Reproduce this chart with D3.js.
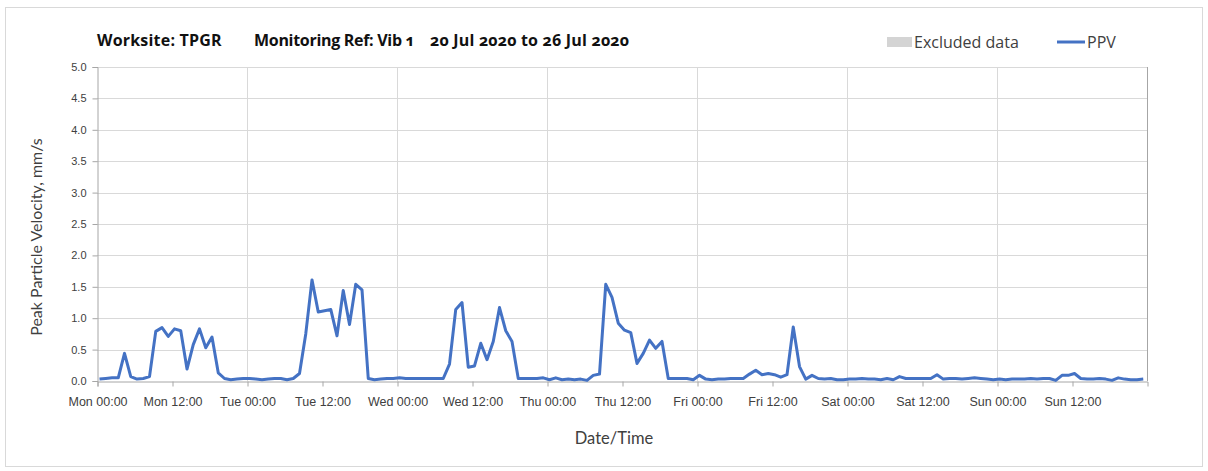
<!DOCTYPE html>
<html>
<head>
<meta charset="utf-8">
<script src="https://cdn.jsdelivr.net/npm/d3@7"></script>
<style>
  body { margin: 0; background: #fff; }
  svg { font-family: Lato, "Open Sans", sans-serif; font-variant-numeric: oldstyle-nums; }
</style>
</head>
<body>
<div id="chart"></div>
<script>
// hourly PPV readings, Mon 20 Jul 2020 00:00 -> Sun 26 Jul 2020 23:00 (mm/s)
const ppvMon = [0.03, 0.04, 0.05, 0.05, 0.44, 0.07, 0.03, 0.04, 0.07, 0.79, 0.85, 0.71,
  0.83, 0.80, 0.19, 0.58, 0.83, 0.53, 0.70, 0.13, 0.04, 0.02, 0.03, 0.04];
const ppvTue = [0.04, 0.03, 0.02, 0.03, 0.04, 0.04, 0.02, 0.04, 0.12, 0.75, 1.61, 1.10,
  1.12, 1.14, 0.72, 1.44, 0.90, 1.54, 1.45, 0.04, 0.02, 0.03, 0.04, 0.04];
const ppvWed = [0.05, 0.04, 0.04, 0.04, 0.04, 0.04, 0.04, 0.04, 0.27, 1.14, 1.25, 0.22,
  0.24, 0.60, 0.34, 0.63, 1.17, 0.80, 0.63, 0.04, 0.04, 0.04, 0.04, 0.05];
const ppvThu = [0.02, 0.05, 0.02, 0.03, 0.02, 0.03, 0.01, 0.09, 0.11, 1.54, 1.33, 0.92,
  0.81, 0.77, 0.28, 0.44, 0.65, 0.52, 0.63, 0.04, 0.04, 0.04, 0.04, 0.02];
const ppvFri = [0.09, 0.03, 0.02, 0.03, 0.03, 0.04, 0.04, 0.04, 0.11, 0.17, 0.10, 0.12,
  0.10, 0.06, 0.10, 0.86, 0.23, 0.03, 0.09, 0.04, 0.03, 0.04, 0.02, 0.02];
const ppvSat = [0.03, 0.03, 0.04, 0.03, 0.03, 0.02, 0.04, 0.02, 0.07, 0.04, 0.04, 0.04,
  0.04, 0.04, 0.10, 0.03, 0.04, 0.04, 0.03, 0.04, 0.05, 0.04, 0.03, 0.02];
const ppvSun = [0.03, 0.02, 0.03, 0.03, 0.03, 0.04, 0.03, 0.04, 0.04, 0.01, 0.09, 0.09,
  0.12, 0.04, 0.03, 0.03, 0.04, 0.03, 0.01, 0.05, 0.03, 0.02, 0.02, 0.03];

const dayNames = ["Mon", "Tue", "Wed", "Thu", "Fri", "Sat", "Sun"];
const yTicks = [0, 0.5, 1, 1.5, 2, 2.5, 3, 3.5, 4, 4.5, 5];
const titleParts = ["Worksite: TPGR", "Monitoring Ref: Vib 1", "20 Jul 2020 to 26 Jul 2020"];
const legendLabels = ["Excluded data", "PPV"];

const startTime = new Date(2020, 6, 20, 0, 0);
const endTime = new Date(2020, 6, 27, 0, 0);
const readingOffset = 24; // minutes past the hour
const ppv = [].concat(ppvMon, ppvTue, ppvWed, ppvThu, ppvFri, ppvSat, ppvSun);
const data = ppv.map((v, i) => ({
  t: d3.timeMinute.offset(d3.timeHour.offset(startTime, i), readingOffset),
  v: v
}));

const width = 1208, height = 471;
const margin = { top: 67, right: 60, bottom: 90, left: 97 };

const svg = d3.select("#chart").append("svg")
  .attr("width", width)
  .attr("height", height);

// outer chart frame
svg.append("rect")
  .attr("x", 5.5).attr("y", 7.5)
  .attr("width", 1197).attr("height", 459)
  .attr("fill", "#fff")
  .attr("stroke", "#d9d9d9");

const x = d3.scaleTime()
  .domain([startTime, endTime])
  .range([margin.left, width - margin.right - 1]);

const y = d3.scaleLinear()
  .domain([0, 5])
  .range([height - margin.bottom, margin.top]);

// gridlines
svg.append("g")
  .selectAll("line")
  .data(yTicks.slice(1))
  .join("line")
  .attr("x1", x.range()[0]).attr("x2", x.range()[1])
  .attr("y1", d => Math.round(y(d)) + 0.5)
  .attr("y2", d => Math.round(y(d)) + 0.5)
  .attr("stroke", "#d9d9d9");

svg.append("g")
  .selectAll("line")
  .data(d3.timeDay.range(d3.timeDay.offset(startTime, 1), endTime))
  .join("line")
  .attr("x1", d => Math.round(x(d)) + 0.5)
  .attr("x2", d => Math.round(x(d)) + 0.5)
  .attr("y1", y(0)).attr("y2", y(5))
  .attr("stroke", "#d9d9d9");

// axes
const tickFmt = d => dayNames[(d.getDay() + 6) % 7] + " " + d3.timeFormat("%H:%M")(d);

const xAxis = d3.axisBottom(x)
  .tickValues(d3.timeHour.every(12).range(startTime, endTime))
  .tickFormat(tickFmt)
  .tickSize(5)
  .tickPadding(11);

const xg = svg.append("g")
  .attr("transform", `translate(0.5,${Math.round(y(0)) + 0.5})`)
  .call(xAxis);
xg.select(".domain").attr("stroke", "#a6a6a6");
xg.selectAll(".tick line").attr("stroke", "#a6a6a6");
xg.selectAll(".tick text")
  .attr("fill", "#404040")
  .style("font-size", "12.5px");

const yAxis = d3.axisLeft(y)
  .tickValues(yTicks)
  .tickFormat(d3.format(".1f"))
  .tickSize(5)
  .tickPadding(6);

const yg = svg.append("g")
  .attr("transform", `translate(${margin.left + 0.5},0)`)
  .call(yAxis);
yg.select(".domain").attr("stroke", "#a6a6a6");
yg.selectAll(".tick line").attr("stroke", "#a6a6a6");
yg.selectAll(".tick text")
  .attr("fill", "#404040")
  .style("font-size", "11px");

// right border of plot
svg.append("line")
  .attr("x1", x.range()[1] + 0.5).attr("x2", x.range()[1] + 0.5)
  .attr("y1", y(0)).attr("y2", y(5))
  .attr("stroke", "#a6a6a6");

// PPV line
const line = d3.line()
  .x(d => x(d.t))
  .y(d => y(d.v));

svg.append("path")
  .datum(data)
  .attr("fill", "none")
  .attr("stroke", "#4472c4")
  .attr("stroke-width", 3)
  .attr("stroke-linejoin", "round")
  .attr("d", line);

// title
const titleX = [97, 254, 430];
svg.append("g")
  .selectAll("text")
  .data(titleParts)
  .join("text")
  .attr("x", (d, i) => titleX[i])
  .attr("y", 46)
  .attr("fill", "#111")
  .style("font-family", "'Open Sans', sans-serif")
  .style("font-size", "16px")
  .style("font-weight", "bold")
  .style("letter-spacing", (d, i) => i === 1 ? "-0.3px" : "0.2px")
  .text(d => d);

// legend
const legend = svg.append("g")
  .attr("fill", "#404040")
  .style("font-family", "'Open Sans', sans-serif")
  .style("font-size", "16px");
legend.append("rect")
  .attr("x", 887).attr("y", 37)
  .attr("width", 25).attr("height", 10)
  .attr("fill", "#d4d4d4");
legend.append("text").attr("x", 914).attr("y", 48).text(legendLabels[0]);
legend.append("line")
  .attr("x1", 1057).attr("x2", 1085)
  .attr("y1", 42).attr("y2", 42)
  .attr("stroke", "#4472c4").attr("stroke-width", 3);
legend.append("text").attr("x", 1087).attr("y", 48).text(legendLabels[1]);

// axis titles
svg.append("text")
  .attr("x", 614).attr("y", 444)
  .attr("text-anchor", "middle")
  .attr("fill", "#404040")
  .style("font-size", "16.5px")
  .text("Date/Time");

svg.append("text")
  .attr("transform", `translate(42,237) rotate(-90)`)
  .attr("text-anchor", "middle")
  .attr("fill", "#404040")
  .style("font-size", "16px")
  .text("Peak Particle Velocity, mm/s");
</script>
</body>
</html>
